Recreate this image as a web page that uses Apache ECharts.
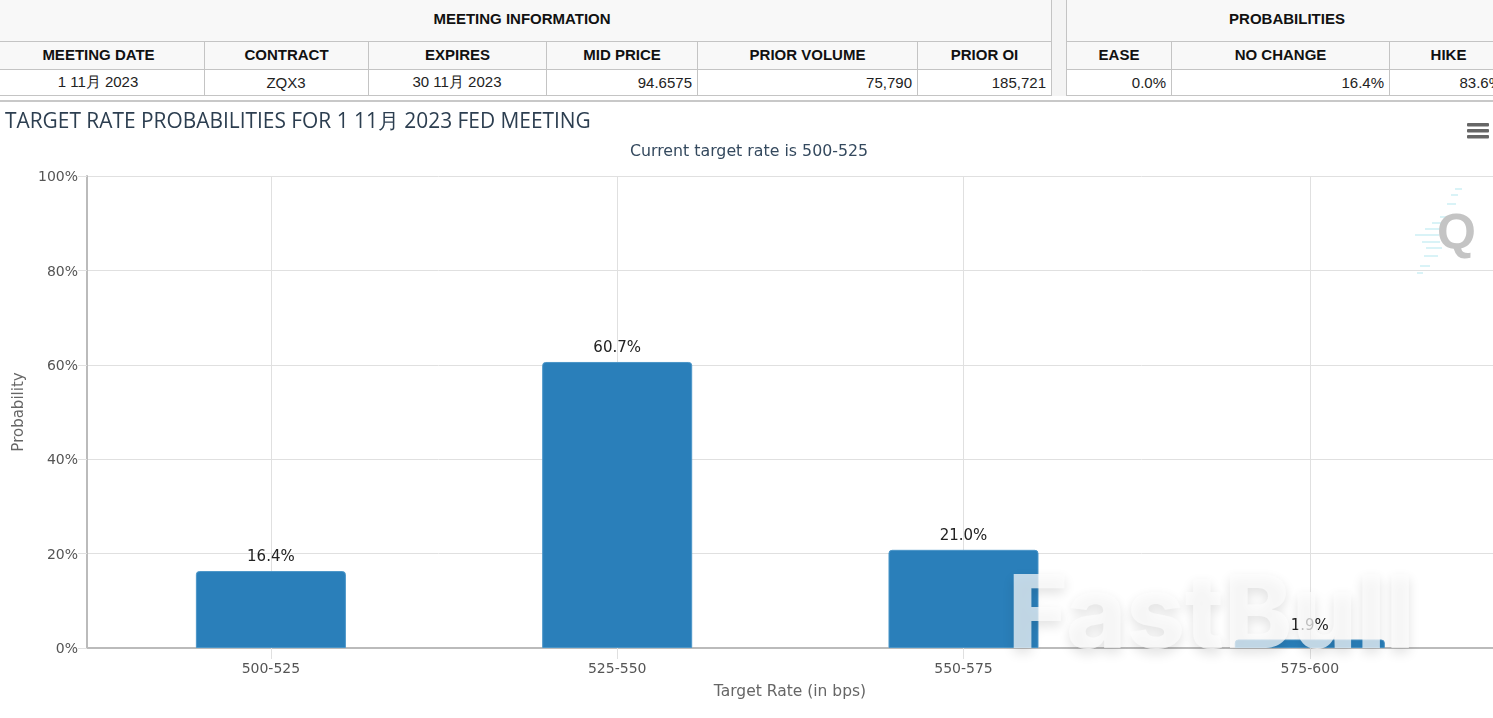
<!DOCTYPE html>
<html>
<head>
<meta charset="utf-8">
<title>Target rate probabilities</title>
<script src="https://cdn.jsdelivr.net/npm/echarts@6/dist/echarts.min.js"></script>
<style>
  html, body { margin: 0; padding: 0; background: #fff; width: 1493px; height: 718px; overflow: hidden; }
  table { position: absolute; top: 0; border-collapse: collapse; table-layout: fixed; font-family: "Liberation Sans", Arial, sans-serif; font-size: 15px; color: #222; }
  th { background: #f8f8f8; color: #111; font-weight: bold; border: 1px solid #c4c4c4; padding: 0; text-align: center; }
  td { border: 1px solid #c4c4c4; padding: 0 5px 1px 4px; text-align: right; height: 24px; }
  td.c { text-align: center; }
  tr.top th { height: 36px; padding-bottom: 5px; border-top: 0; }
  tr.sub th { height: 24px; padding-bottom: 3px; }
  #gap { position: absolute; left: 1052px; top: 0; width: 14px; height: 96px; background: #f4f4f4; }
  #rule { position: absolute; left: 0; top: 100px; width: 1493px; height: 2px; background: #c8c8c8; }
  #chart { position: absolute; left: 0; top: 101px; width: 1493px; height: 617px; }
</style>
</head>
<body>
<div id="gap"></div>
<table id="meeting" style="left:-8px;width:1059px"></table>
<table id="probs" style="left:1066px;width:441px"></table>
<div id="rule"></div>
<div id="chart"></div>
<script>
// table contents
var meetingCols = ['MEETING DATE', 'CONTRACT', 'EXPIRES', 'MID PRICE', 'PRIOR VOLUME', 'PRIOR OI'];
var meetingRow = ['1 11月 2023', 'ZQX3', '30 11月 2023', '94.6575', '75,790', '185,721'];
var meetingWidths = [212, 164, 178, 151, 220, 134];
var probCols = ['EASE', 'NO CHANGE', 'HIKE'];
var probRow = ['0.0%', '16.4%', '83.6%'];
var probWidths = [105, 218, 118];

// chart data
var categories = ['500-525', '525-550', '550-575', '575-600'];
var probabilities = [16.4, 60.7, 21.0, 1.9];
var barHeights = [16.3, 60.6, 20.8, 1.8];

function buildTable(id, title, cols, row, widths, centered) {
  var html = '<colgroup>';
  widths.forEach(function (w) { html += '<col style="width:' + w + 'px">'; });
  html += '</colgroup><tr class="top"><th colspan="' + cols.length + '">' + title + '</th></tr><tr class="sub">';
  cols.forEach(function (c) { html += '<th>' + c + '</th>'; });
  html += '</tr><tr>';
  row.forEach(function (v, i) {
    html += '<td' + (i < centered ? ' class="c"' : '') + '>' + v + '</td>';
  });
  document.getElementById(id).innerHTML = html + '</tr>';
}
buildTable('meeting', 'MEETING INFORMATION', meetingCols, meetingRow, meetingWidths, 3);
buildTable('probs', 'PROBABILITIES', probCols, probRow, probWidths, 0);

var chart = echarts.init(document.getElementById('chart'));
var titleFont = '"Open Sans", sans-serif';
var axisFont = '"DejaVu Sans", sans-serif';

// the streaks beside the Q logo
var streaks = [[1455, 87, 7], [1451, 93, 7], [1447, 102, 9], [1440, 115, 12], [1432, 121, 14], [1425, 127, 16],
  [1415, 133, 24], [1422, 140, 18], [1426, 146, 16], [1424, 154, 14], [1420, 164, 10], [1417, 171, 6]];

var option = {
  animation: false,
  title: [{
    text: 'TARGET RATE PROBABILITIES FOR 1 11月 2023 FED MEETING',
    left: 0, top: 6,
    textStyle: { fontFamily: titleFont, fontSize: 20.9, fontWeight: 'normal', color: '#2c3e50' }
  }, {
    text: 'Current target rate is 500-525',
    left: 744, top: 38, textAlign: 'center',
    textStyle: { fontFamily: axisFont, fontSize: 15.8, fontWeight: 'normal', color: '#34495e' }
  }],
  grid: { left: 87, right: 0, top: 75, bottom: 70, outerBoundsMode: 'none' },
  xAxis: {
    type: 'value',
    min: -0.531,
    max: 3.529,
    interval: 1,
    name: 'Target Rate (in bps)',
    nameLocation: 'middle',
    nameGap: 36,
    nameTextStyle: { fontFamily: axisFont, fontSize: 15.5, color: '#666' },
    axisLine: { show: true, onZero: false, lineStyle: { color: '#bbb', width: 2 } },
    axisTick: { show: true, length: 11, customValues: [0, 1, 2, 3], lineStyle: { color: '#e0e0e0' } },
    axisLabel: {
      customValues: [0, 1, 2, 3],
      margin: 14,
      fontFamily: axisFont, fontSize: 14, color: '#555',
      formatter: function (v) { return categories[v]; }
    },
    splitLine: { show: true, lineStyle: { color: '#e0e0e0' } }
  },
  yAxis: {
    type: 'value',
    min: 0,
    max: 100,
    interval: 20,
    name: 'Probability',
    nameLocation: 'middle',
    nameGap: 59,
    nameTextStyle: { fontFamily: axisFont, fontSize: 15, color: '#666' },
    axisLine: { show: true, onZero: false, lineStyle: { color: '#bbb', width: 2 } },
    axisTick: { show: true, length: 9, lineStyle: { color: '#e0e0e0' } },
    axisLabel: { margin: 9, verticalAlign: 'top', lineHeight: 3, fontFamily: axisFont, fontSize: 14, color: '#555', formatter: '{value}%' },
    splitLine: { show: true, lineStyle: { color: '#e0e0e0' } }
  },
  series: [{
    type: 'bar',
    barWidth: 150,
    data: barHeights.map(function (v, i) { return [i, v]; }),
    itemStyle: { color: '#2a7fba', borderColor: '#4b96c8', borderWidth: 1, borderRadius: [3, 3, 0, 0] },
    label: {
      show: true,
      position: 'top',
      distance: 6,
      fontFamily: axisFont,
      fontSize: 15,
      color: '#222',
      formatter: function (p) { return probabilities[p.dataIndex].toFixed(1) + '%'; }
    }
  }],
  graphic: {
    elements: [
      // menu icon
      { type: 'rect', shape: { x: 1467, y: 22, width: 22, height: 3.5, r: 1 }, style: { fill: '#666' } },
      { type: 'rect', shape: { x: 1467, y: 28, width: 22, height: 3.5, r: 1 }, style: { fill: '#666' } },
      { type: 'rect', shape: { x: 1467, y: 34, width: 22, height: 3.5, r: 1 }, style: { fill: '#666' } },
      // Q logo
      { type: 'text', z: 5, style: { x: 1437, y: 109, text: 'Q', fill: '#c4c4c4', font: 'bold 50px "Liberation Sans"' } }
    ].concat(streaks.map(function (s) {
      return { type: 'rect', z: 4, shape: { x: s[0], y: s[1], width: s[2], height: 2 }, style: { fill: '#d9f3f7' } };
    })).concat([
      // FastBull watermark
      { type: 'text', z: 10, style: {
        x: 1008, y: 465, text: 'FastBull',
        fill: 'rgba(252,252,252,0.72)',
        font: '800 102px Inter',
        textShadowBlur: 12, textShadowOffsetY: 5, textShadowColor: 'rgba(0,0,0,0.16)'
      } }
    ])
  }
};
chart.setOption(option);
</script>
</body>
</html>
